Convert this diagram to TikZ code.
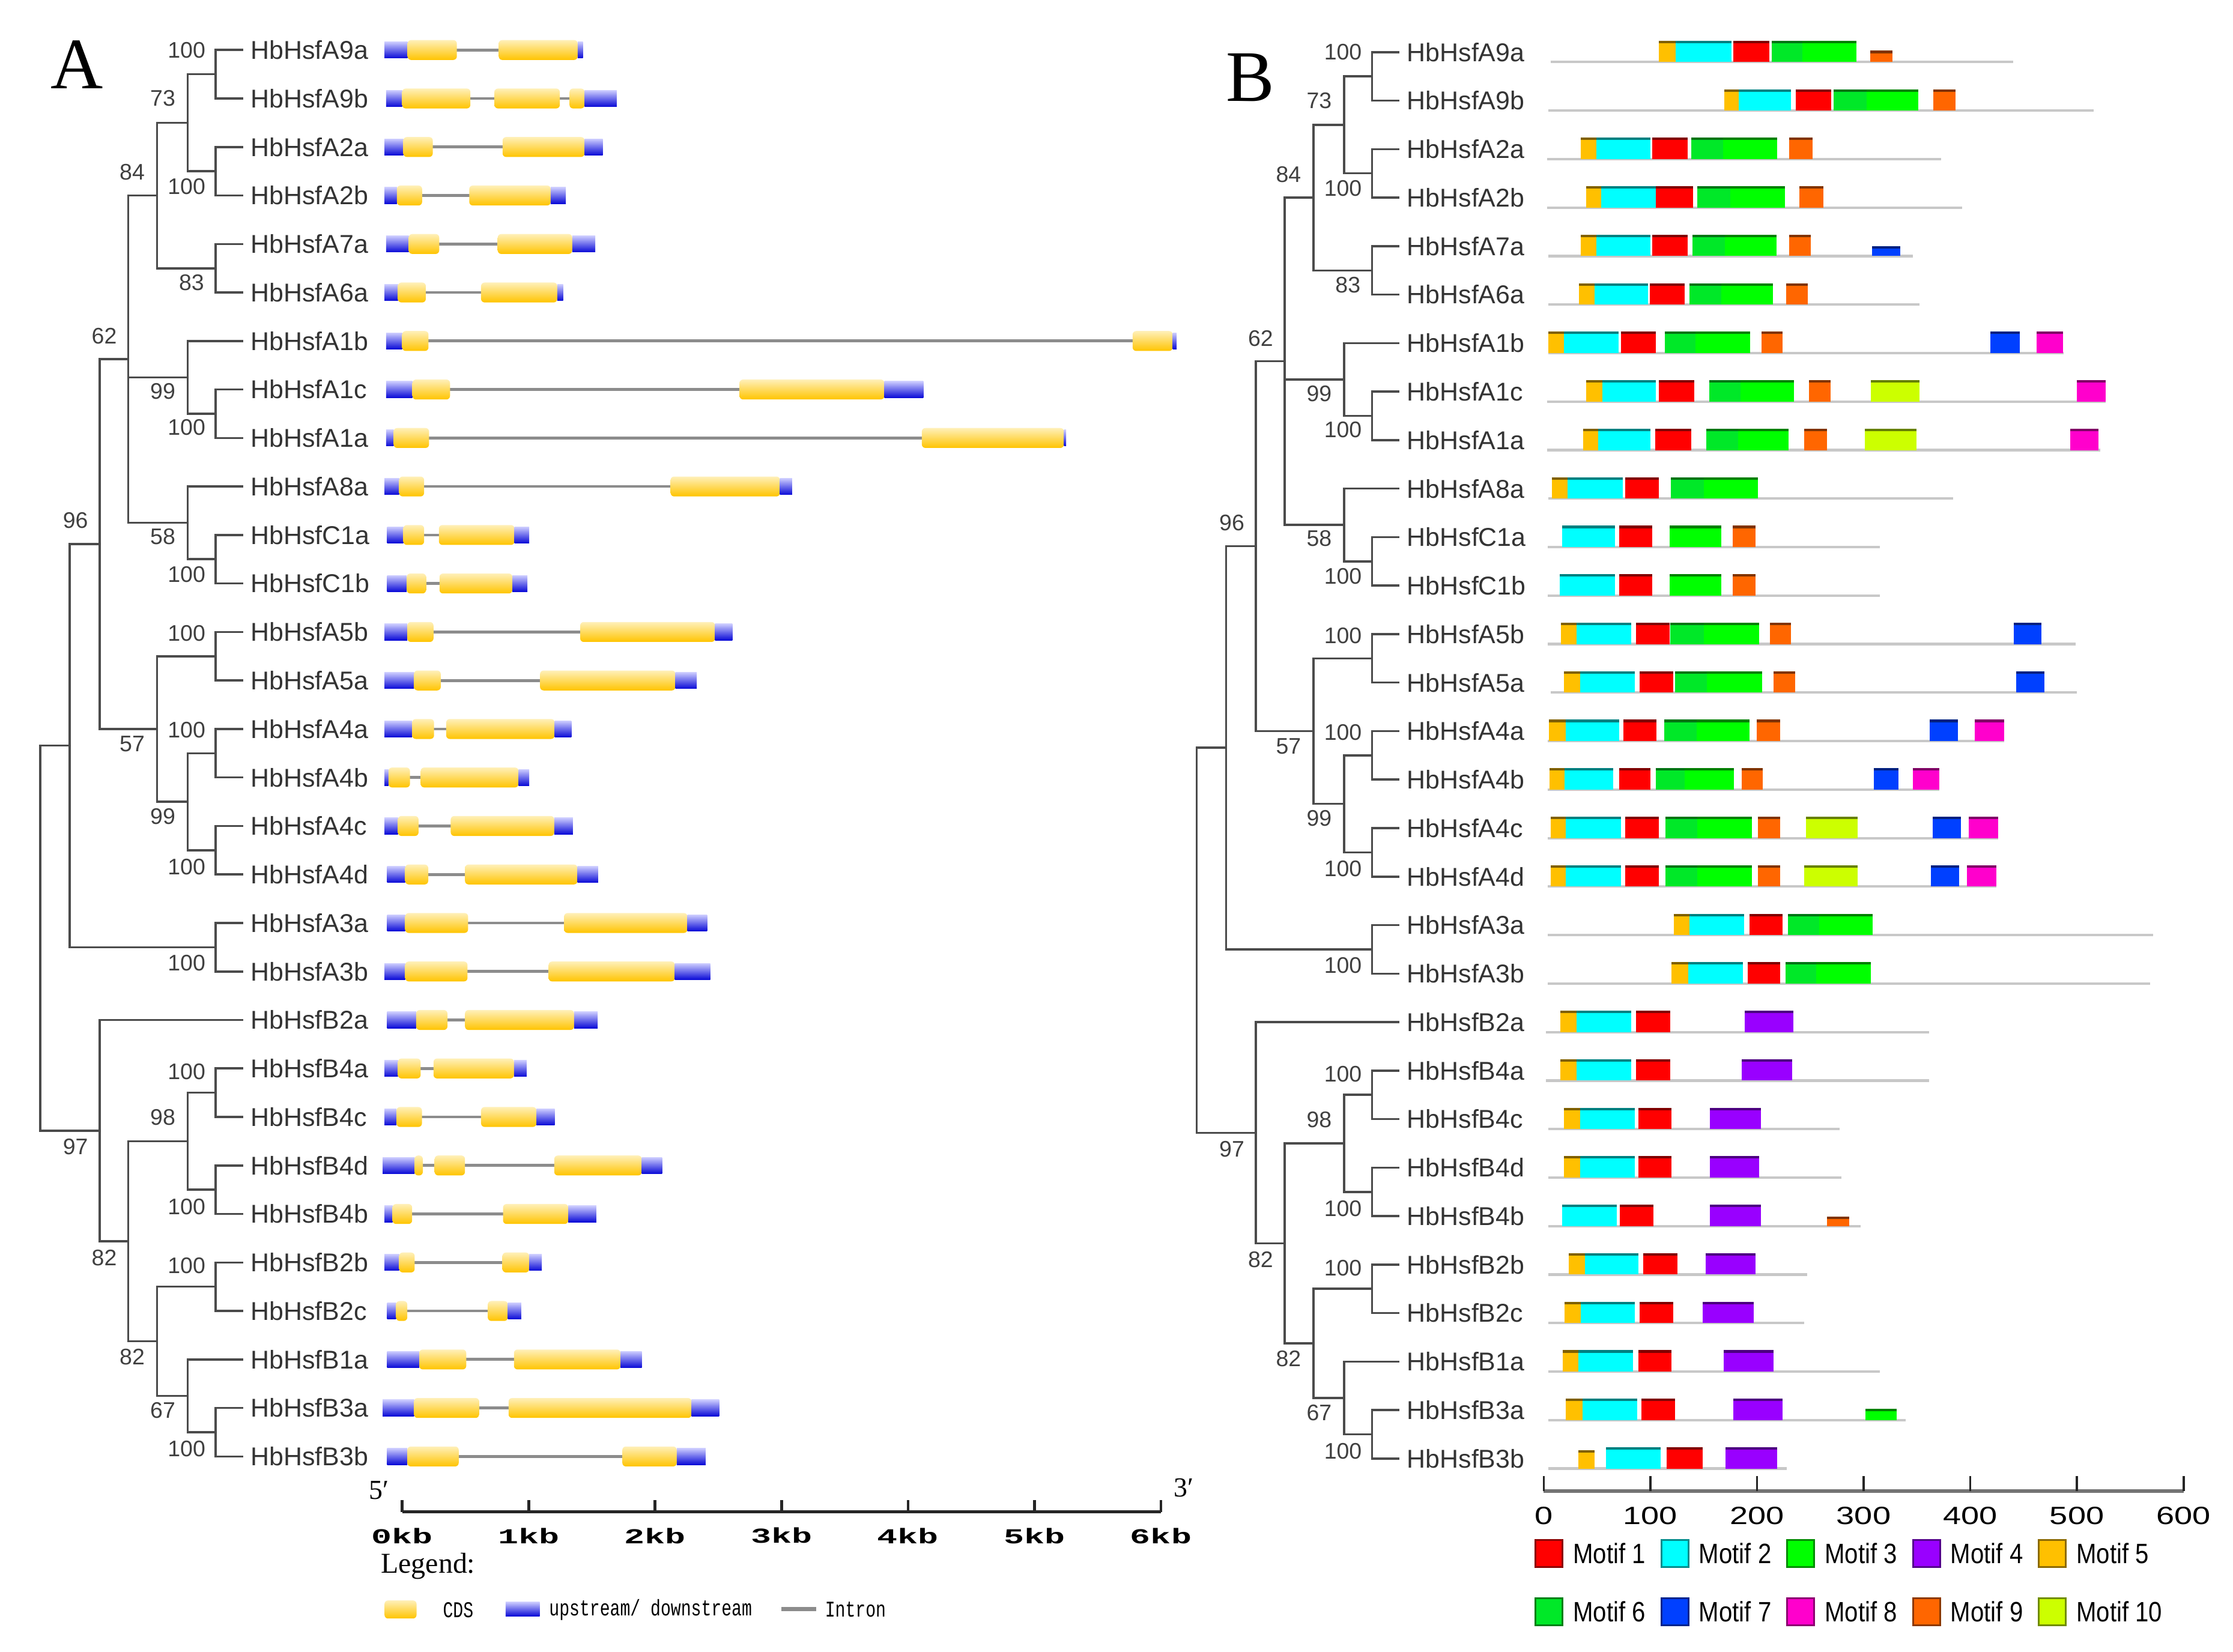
\documentclass[tikz,border=0pt]{standalone}
\usepackage{fontspec}
\setmainfont{Liberation Sans}
\newfontfamily\panelfont{Liberation Serif}
\newfontfamily\kbfont[FakeStretch=1.6]{Liberation Mono}
\newfontfamily\legfont[FakeStretch=0.75]{Liberation Mono}
\newfontfamily\narrowfont[FakeStretch=0.86]{Liberation Sans}
\newfontfamily\widefont[FakeStretch=1.3]{Liberation Sans}
\usepackage{tikz}
\usetikzlibrary{positioning}
\definecolor{treegray}{RGB}{75,75,75}
\definecolor{introngray}{RGB}{140,140,140}
\definecolor{linegray}{RGB}{200,200,200}
\definecolor{cdstop}{RGB}{255,240,185}
\definecolor{cdsbot}{RGB}{255,196,0}
\definecolor{utrtop}{RGB}{205,205,255}
\definecolor{utrbot}{RGB}{10,10,215}
\definecolor{mot1}{RGB}{255,0,0}
\definecolor{mot2}{RGB}{0,255,255}
\definecolor{mot3}{RGB}{0,255,0}
\definecolor{mot4}{RGB}{153,0,255}
\definecolor{mot5}{RGB}{255,192,0}
\definecolor{mot6}{RGB}{0,232,40}
\definecolor{mot7}{RGB}{0,64,255}
\definecolor{mot8}{RGB}{255,0,204}
\definecolor{mot9}{RGB}{255,102,0}
\definecolor{mot10}{RGB}{204,255,0}
\tikzset{
  branch/.style = {draw=treegray, line width=0.3mm},
  genename/.style = {anchor=west, inner sep=0pt, outer sep=1.04mm, text=black!80, font=\fontsize{10.3}{12}\selectfont},
  boot/.style = {inner sep=0pt, text=black!75, font=\fontsize{9}{10}\selectfont},
  panel/.style = {inner sep=0pt, font=\panelfont\fontsize{29}{30}\selectfont},
  cds/.style = {anchor=west, inner sep=0pt, outer sep=0pt, minimum height=2.8mm, rounded corners=0.5mm, top color=cdstop, bottom color=cdsbot},
  utr/.style = {anchor=west, inner sep=0pt, outer sep=0pt, minimum height=2.3mm, top color=utrtop, bottom color=utrbot},
  intron/.style = {draw=introngray, line width=0.4mm},
  protein/.style = {draw=linegray, line width=0.35mm},
  motif/.style = {anchor=south west, inner sep=0pt, outer sep=0pt, minimum height=3mm},
  motiftop/.style = {line width=0.35mm},
  scalelab/.style = {inner sep=0pt, font=\kbfont\bfseries\fontsize{8.5}{10}\selectfont},
  endlab/.style = {inner sep=0pt, font=\panelfont\fontsize{11}{12}\selectfont},
  axislab/.style = {inner sep=0pt, font=\widefont\fontsize{10}{12}\selectfont},
  legtext/.style = {anchor=west, inner sep=0pt, font=\legfont\fontsize{9}{10}\selectfont},
  keybox/.style = {anchor=west, inner sep=0pt, minimum width=3.8mm, minimum height=3.8mm, line width=0.25mm},
  keytext/.style = {inner sep=0pt, font=\narrowfont\fontsize{11.2}{12}\selectfont},
}
\begin{document}
\begin{tikzpicture}[x=0.2mm, y=-0.2mm]
\useasboundingbox (0,0) rectangle (1568,1160);

\node[panel] (panA) at (54,45.5) {A};
\node[panel] (panB) at (878,54.5) {B};

\foreach \p/\dx/\dy in {a/0/0, b/812/1.5}{
  \begin{scope}[shift={(\dx,\dy)}]
    \foreach \g [count=\i from 0] in {A9a,A9b,A2a,A2b,A7a,A6a,A1b,A1c,A1a,A8a,C1a,C1b,A5b,A5a,A4a,A4b,A4c,A4d,A3a,A3b,B2a,B4a,B4c,B4d,B4b,B2b,B2c,B1a,B3a,B3b}
      \node[genename] (\p\g) at (170.8,{35.1+34.06*\i}) {HbHsf\g};
    \foreach \n/\x/\y in {n1/151.4/52.1, n2/151.4/120.25, n3/131.8/86.2, n4/151.4/188.4, n5/110.3/137.3,
        n6/151.4/290.55, n7/131.8/265.0, n8/151.4/392.73, n9/131.8/367.2, m/90.1/252.25,
        n10/151.4/460.85, n11/151.4/528.97, n12/151.4/597.09, n13/131.8/563.03, n14/110.3/511.94,
        n15/69.9/382.1, n16/151.4/665.21, n17/49/523.66, n18/151.4/767.39, n19/151.4/835.51,
        n20/131.8/801.45, n21/151.4/903.63, n22/151.4/1005.81, n23/131.8/980.27, n24/110.3/941.95,
        n25/90.1/871.7, n26/69.9/794.0, root/28.2/658.83}
      \coordinate (\p\n) at (\x,\y);
    \foreach \n/\kids in {n1/{A9a,A9b}, n2/{A2a,A2b}, n3/{n1,n2}, n4/{A7a,A6a}, n5/{n3,n4},
        n6/{A1c,A1a}, n7/{A1b,n6}, n8/{C1a,C1b}, n9/{A8a,n8}, m/{n5,n7,n9},
        n10/{A5b,A5a}, n11/{A4a,A4b}, n12/{A4c,A4d}, n13/{n11,n12}, n14/{n10,n13},
        n15/{m,n14}, n16/{A3a,A3b}, n17/{n15,n16}, n18/{B4a,B4c}, n19/{B4d,B4b},
        n20/{n18,n19}, n21/{B2b,B2c}, n22/{B3a,B3b}, n23/{B1a,n22}, n24/{n21,n23},
        n25/{n20,n24}, n26/{B2a,n25}, root/{n17,n26}}
      \foreach \k in \kids
        \draw[branch] (\p\n) |- (\p\k);
    \foreach \x/\y/\v [count=\j] in {131/35.1/100, 114.3/69/73, 92.8/121/84, 131/130.8/100, 134.5/198.5/83,
        73.2/236/62, 114.3/274.8/99, 131/300.2/100, 53/365.6/96, 114.3/376.7/58, 131/403.3/100,
        131/444.9/100, 92.8/522.6/57, 131/512.7/100, 114.3/573.2/99, 131/608.6/100, 131/676.3/100,
        53/805.4/97, 131/752.7/100, 114.3/784.7/98, 131/847.4/100, 73.2/883.2/82, 131/888.8/100,
        92.8/952.8/82, 114.3/990.6/67, 131/1017.5/100}
      \node[boot] (\p bs\j) at (\x,\y) {\v};
  \end{scope}
}

\foreach \r/\lo/\hi/\parts in {
  0/270/409.3/{utr/270/286.2,cds/286.2/320.8,cds/350.2/405.6,utr/405.6/409.3},
  1/271.1/433.1/{utr/271.1/282.4,cds/282.4/330.3,cds/347.2/393.1,cds/399.9/410.5,utr/410.5/433.1},
  2/270/423.3/{utr/270/283.2,cds/283.2/303.9,cds/352.9/410.5,utr/410.5/423.3},
  3/270/397.3/{utr/270/278.7,cds/278.7/296.4,cds/329.5/386.7,utr/386.7/397.3},
  4/271.1/418/{utr/271.1/287,cds/287/308.4,cds/349.5/401.8,utr/401.8/418},
  5/270/395.4/{utr/270/279.4,cds/279.4/299,cds/337.8/391.3,utr/391.3/395.4},
  6/271.1/826.2/{utr/271.1/282.4,cds/282.4/300.9,cds/795.3/823.5,utr/823.5/826.2},
  7/271.1/648.4/{utr/271.1/289.6,cds/289.6/316,cds/519.3/621,utr/621/648.4},
  8/271.1/748.6/{utr/271.1/276.4,cds/276.4/301.3,cds/647.3/747.1,utr/747.1/748.6},
  9/270/556.2/{utr/270/280.3,cds/280.3/297.8,cds/470.9/547.7,utr/547.7/556.2},
  10/271.9/371.6/{utr/271.9/283.2,cds/283.2/297.8,cds/308.2/361.3,utr/361.3/371.6},
  11/271.9/370.3/{utr/271.9/285.6,cds/285.6/299.2,cds/308.6/359.8,utr/359.8/370.3},
  12/270/514.2/{utr/270/286,cds/286/304.4,cds/407.4/502.1,utr/502.1/514.2},
  13/270/489.3/{utr/270/290.7,cds/290.7/309.5,cds/379.2/474.3,utr/474.3/489.3},
  14/270/401.2/{utr/270/289.4,cds/289.4/304.8,cds/313.3/389.5,utr/389.5/401.2},
  15/270/371.6/{utr/270/272.8,cds/272.8/287.9,cds/295.4/364.1,utr/364.1/371.6},
  16/270/402.3/{utr/270/279.4,cds/279.4/293.9,cds/316.5/389.2,utr/389.2/402.3},
  17/271.9/420/{utr/271.9/284.5,cds/284.5/300.7,cds/326.5/405.5,utr/405.5/420},
  18/271.9/496.5/{utr/271.9/284.5,cds/284.5/328.7,cds/396.1/482.7,utr/482.7/496.5},
  19/270/498.7/{utr/270/284.5,cds/284.5/328.3,cds/385.2/473.9,utr/473.9/498.7},
  20/271.9/419.7/{utr/271.9/292.2,cds/292.2/314.2,cds/326.5/403.1,utr/403.1/419.7},
  21/270/369.8/{utr/270/279.4,cds/279.4/295.4,cds/304.4/360.9,utr/360.9/369.8},
  22/270/389.5/{utr/270/278.4,cds/278.4/296.3,cds/337.8/376.7,utr/376.7/389.5},
  23/268.7/464.9/{utr/268.7/291.1,cds/291.1/296.9,cds/305.2/326.5,cds/389.2/450.7,utr/450.7/464.9},
  24/270/418.7/{utr/270/275.6,cds/275.6/289.4,cds/353.2/399,utr/399/418.7},
  25/270/380.5/{utr/270/280.3,cds/280.3/291.2,cds/352.8/371.6,utr/371.6/380.5},
  26/271.9/366/{utr/271.9/278.1,cds/278.1/286,cds/342.5/356.6,utr/356.6/366},
  27/271.9/450.7/{utr/271.9/294.4,cds/294.4/327.4,cds/360.9/435.7,utr/435.7/450.7},
  28/268.7/505/{utr/268.7/290.7,cds/290.7/336.4,cds/357.1/485.6,utr/485.6/505},
  29/271.9/495.5/{utr/271.9/286,cds/286/322.1,cds/437/475.2,utr/475.2/495.5}}{
  \pgfmathsetmacro\yy{35.1+34.06*\r}
  \draw[intron] (\lo,\yy) -- (\hi,\yy);
  \foreach \t/\a/\b in \parts {
    \pgfmathsetmacro\w{(\b-\a)*0.2}
    \node[\t, minimum width=\w mm] at (\a,\yy) {};
  }
}

\coordinate (kb0) at (282.4,1061.7);
\coordinate (kb6) at (815.2,1061.7);
\draw[line width=0.45mm, black!85] (kb0) -- (kb6);
\foreach \k in {0,...,6}{
  \draw[line width=0.4mm, black!85] (282.4+88.8*\k,1061.7) -- ++(0,-8.1);
  \node[scalelab] (kblab\k) at (282.4+88.8*\k,1078.5) {\k kb};
}
\node[endlab] (five) at (266,1046.5) {5′};
\node[endlab] (three) at (831.3,1045) {3′};

\node[inner sep=0pt, font=\panelfont\fontsize{11.5}{12}\selectfont] (legend) at (300.6,1099.8) {Legend:};
\node[cds, minimum width=4.5mm, minimum height=2.54mm] (keycds) at (270,1130.3) {};
\node[legtext] (cdstext) at (310.7,1130.5) {CDS};
\node[utr, minimum width=4.8mm, minimum height=2mm] (keyutr) at (355,1130) {};
\node[legtext] (utrtext) at (385.3,1130.5) {upstream/ downstream};
\coordinate (keyin1) at (548.8,1130);
\coordinate (keyin2) at (573,1130);
\draw[intron, line width=0.6mm] (keyin1) -- (keyin2);
\node[legtext] (introntext) at (579,1130.5) {Intron};

\foreach \r/\lo/\hi/\mots in {
  0/1088.7/1413.5/{5/1164.8/1176.7,2/1176.7/1215.7,1/1217.1/1242.3,6/1244.2/1265.6,3/1265.6/1303.6},
  1/1087.3/1470/{5/1210.9/1220.9,2/1220.9/1257.5,1/1260.8/1286,6/1287.4/1310.7,3/1310.7/1346.9,9/1357.4/1373},
  2/1086.3/1363/{5/1110.1/1121,2/1121/1159,1/1160/1185.2,6/1187.6/1209.9,3/1209.9/1248,9/1256.5/1272.7},
  3/1086.3/1377.8/{5/1113.9/1124.4,2/1124.4/1162.9,1/1162.9/1189,6/1191.9/1215.2,3/1215.2/1253.2,9/1263.7/1280.3},
  4/1087.3/1343.1/{5/1110.1/1121,2/1121/1159,1/1160/1185.2,6/1188.5/1211.4,3/1211.4/1247.5,9/1256.5/1271.3},
  5/1087.3/1347.8/{5/1108.7/1119.6,2/1119.6/1157.2,1/1158.6/1182.8,6/1186.2/1208.5,3/1208.5/1245.1,9/1254.2/1269.4},
  6/1087.3/1449.1/{5/1087.3/1098.2,2/1098.2/1136.7,1/1138.1/1162.9,6/1169.1/1190.4,3/1190.4/1229,9/1237/1251.8,7/1397.8/1418.2,8/1430.1/1448.6},
  7/1086.3/1478.6/{5/1113.9/1125.3,2/1125.3/1162.9,1/1164.8/1189.5,6/1200.4/1222.3,3/1222.3/1259.9,9/1270.3/1285.6,10/1313.6/1347.8,8/1458.2/1478.6},
  8/1086.3/1474.8/{5/1111.5/1122.4,2/1122.4/1159,1/1162.4/1187.6,6/1198.1/1220.4,3/1220.4/1256.1,9/1267/1282.7,10/1309.3/1345.9,8/1453.9/1473.4},
  9/1087.3/1371.6/{5/1089.6/1100.6,2/1100.6/1139.6,1/1141/1164.8,6/1173.3/1196.6,3/1196.6/1234.2},
  10/1086.8/1319.8/{2/1096.7/1134,1/1136.8/1160.2,3/1172.4/1208.8,9/1216.7/1232.8},
  11/1086.8/1319.8/{2/1095.3/1134,1/1136.8/1160.2,3/1172.4/1208.8,9/1216.7/1232.8},
  12/1086.8/1457.3/{5/1096.1/1107.1,2/1107.1/1145.3,1/1148.9/1172.4,6/1173/1196.4,3/1196.4/1235.1,9/1243/1257.7,7/1413.9/1433.6},
  13/1088.8/1458.2/{5/1098.1/1109.4,2/1109.4/1148.1,1/1151.2/1174.9,6/1176.3/1198.4,3/1198.4/1237.3,9/1245.5/1260.5,7/1415.8/1435.6},
  14/1086.8/1407.4/{5/1087.6/1099.5,2/1099.5/1136.8,1/1139.9/1163.1,6/1168.7/1191.3,3/1191.3/1228.6,9/1233.7/1249.8,7/1355.1/1374.9,8/1386.7/1407.4},
  15/1086.8/1361.6/{5/1088.2/1098.7,2/1098.7/1132.8,1/1136.8/1158.8,6/1162.5/1182.8,3/1182.8/1217.6,9/1222.9/1237.9,7/1315.6/1333.1,8/1343/1361.6},
  16/1086.8/1403.1/{5/1088.8/1099.5,2/1099.5/1138.2,1/1141.3/1165,6/1169.3/1191.9,3/1191.9/1230.3,9/1234.2/1250,10/1268.1/1304.3,7/1357.1/1377.1,8/1382.5/1403.1},
  17/1086.8/1401.7/{5/1088.8/1099.5,2/1099.5/1138.2,1/1141.3/1165,6/1169.3/1191.9,3/1191.9/1230.3,9/1234.2/1250,10/1266.7/1304.3,7/1355.7/1375.7,8/1381.1/1401.7},
  18/1086.8/1511.9/{5/1175.2/1186.5,2/1186.5/1224.6,1/1228.6/1251.5,6/1255.4/1277.4,3/1277.4/1315},
  19/1086.8/1509.9/{5/1173.8/1185.6,2/1185.6/1223.8,1/1227.2/1250,6/1254/1275.5,3/1275.5/1313.6},
  20/1085.4/1354.5/{5/1095.8/1107.1,2/1107.1/1145.3,1/1148.9/1172.9,4/1225.2/1259.1},
  21/1085.4/1354.5/{5/1095.8/1107.1,2/1107.1/1145.3,1/1148.9/1172.9,4/1223.2/1258.5},
  22/1087.4/1291.6/{5/1098.1/1109.4,2/1109.4/1148.1,1/1150.3/1173.5,4/1200.6/1236.5},
  23/1087.4/1293/{5/1098.1/1109.4,2/1109.4/1148.1,1/1150.3/1173.5,4/1200.6/1235.4},
  24/1087.4/1306.5/{2/1096.7/1135.4,1/1137.6/1161.1,4/1200.6/1236.5},
  25/1087.4/1269/{5/1101.5/1112.8,2/1112.8/1150.3,1/1154/1177.7,4/1197.5/1232.8},
  26/1087.4/1266.7/{5/1098.7/1110,2/1110/1148.1,1/1151.2/1174.9,4/1195.5/1231.4},
  27/1087.4/1319.8/{5/1097.2/1108.5,2/1108.5/1146.7,1/1150.3/1173.8,4/1210.5/1245.5},
  28/1087.4/1338.2/{5/1099.5/1111.4,2/1111.4/1149.5,1/1152.6/1176.3,4/1217.3/1251.5},
  29/1087.4/1254.8/{2/1127.7/1165.9,1/1170.1/1195.5,4/1211.6/1247.8}}{
  \pgfmathsetmacro\yy{43.6+34.06*\r}
  \draw[protein] (\lo,\yy) -- (\hi,\yy);
  \foreach \m/\a/\b in \mots {
    \pgfmathsetmacro\w{(\b-\a)*0.2}
    \node[motif, fill=mot\m, minimum width=\w mm] (mb) at (\a,\yy) {};
    \draw[motiftop, mot\m!50!black] ([yshift=-0.17mm]mb.north west) -- ([yshift=-0.17mm]mb.north east);
  }
}
\foreach \r/\m/\a/\b/\h in {0/9/1313.1/1328.8/8, 4/7/1314.6/1334.5/7, 24/9/1283.1/1298.6/6.5, 28/3/1309.9/1331.7/8, 29/5/1108.5/1119.8/13}{
  \pgfmathsetmacro\yy{43.6+34.06*\r}
  \pgfmathsetmacro\w{(\b-\a)*0.2}
  \pgfmathsetmacro\hh{\h*0.2}
  \node[motif, fill=mot\m, minimum width=\w mm, minimum height=\hh mm] (sb) at (\a,\yy) {};
  \draw[motiftop, mot\m!50!black] ([yshift=-0.17mm]sb.north west) -- ([yshift=-0.17mm]sb.north east);
}

\coordinate (aa0) at (1084,1047.2);
\coordinate (aa6) at (1533.3,1047.2);
\draw[line width=0.5mm, black!55] (aa0) -- (aa6);
\foreach \k in {0,...,6}{
  \pgfmathtruncatemacro\v{100*\k}
  \draw[line width=0.3mm, black!85] (1084+74.88*\k,1047.2) -- ++(0,-10.6);
  \node[axislab] (aalab\k) at (1084+74.88*\k,1064.3) {\v};
}

\foreach \m in {1,...,10}{
  \pgfmathsetmacro\cx{1077.6+88.35*mod(\m-1,5)}
  \pgfmathsetmacro\cy{\m<6 ? 1091 : 1132}
  \node[keybox, fill=mot\m, draw=mot\m!55!black] (key\m) at (\cx,\cy) {};
  \node[keytext, right=1.3mm of key\m] (keylab\m) {Motif \m};
}
\end{tikzpicture}
\end{document}
